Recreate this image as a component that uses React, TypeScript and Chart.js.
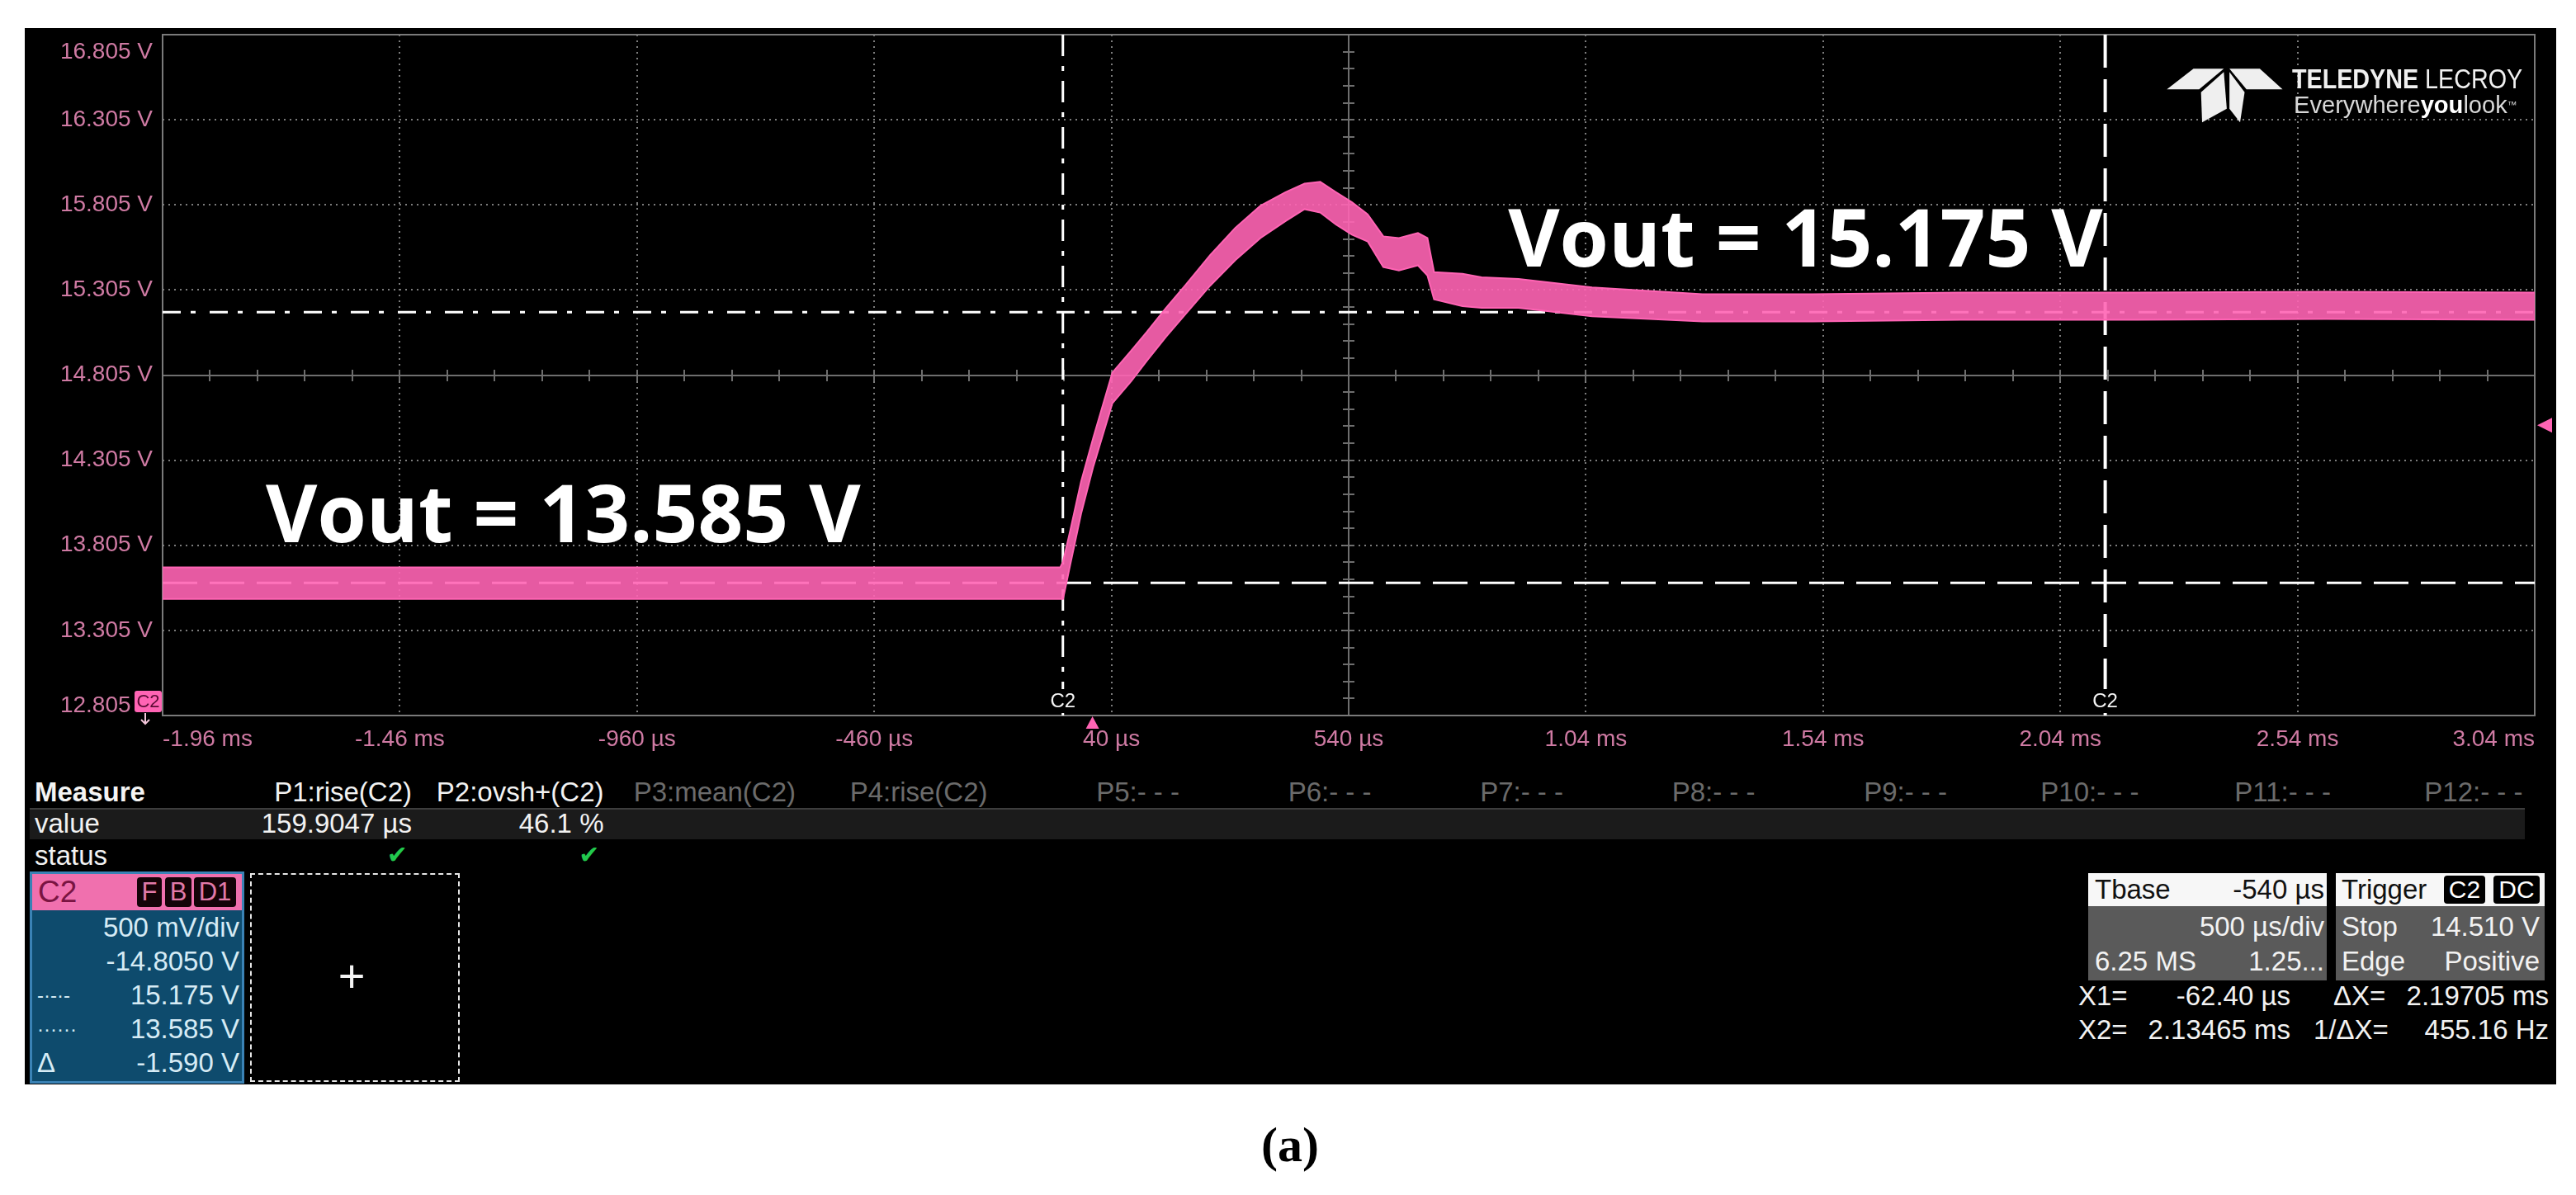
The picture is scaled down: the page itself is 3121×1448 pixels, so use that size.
import React, { useEffect, useRef } from 'react';
import { Chart, registerables } from 'chart.js';

Chart.register(...registerables);

// ---------------- data read from the oscilloscope capture ----------------
const timeMs = [-1.96, -1.2, -0.5, -0.068, -0.062, -0.047, -0.024, 0.002, 0.042, 0.082, 0.115, 0.155, 0.195, 0.248, 0.301, 0.354, 0.407, 0.447, 0.48, 0.513, 0.547, 0.58, 0.613, 0.646, 0.686, 0.706, 0.72, 0.78, 0.82, 0.898, 1.053, 1.286, 1.518, 1.83, 2.2, 2.6, 3.04];
const upperV = [13.675, 13.675, 13.675, 13.675, 13.71, 13.89, 14.18, 14.44, 14.82, 14.95, 15.06, 15.2, 15.33, 15.51, 15.67, 15.8, 15.88, 15.93, 15.94, 15.88, 15.82, 15.75, 15.62, 15.61, 15.64, 15.61, 15.41, 15.4, 15.38, 15.37, 15.32, 15.28, 15.28, 15.29, 15.29, 15.295, 15.29];
const lowerV = [13.49, 13.49, 13.49, 13.49, 13.49, 13.69, 13.99, 14.27, 14.64, 14.77, 14.89, 15.03, 15.16, 15.33, 15.48, 15.61, 15.71, 15.78, 15.76, 15.69, 15.63, 15.59, 15.44, 15.42, 15.45, 15.39, 15.25, 15.21, 15.2, 15.2, 15.15, 15.12, 15.12, 15.13, 15.13, 15.135, 15.13];

const xTickValues = [-1.96, -1.46, -0.96, -0.46, 0.04, 0.54, 1.04, 1.54, 2.04, 2.54, 3.04];
const xTickLabels = ['-1.96 ms', '-1.46 ms', '-960 µs', '-460 µs', '40 µs', '540 µs', '1.04 ms', '1.54 ms', '2.04 ms', '2.54 ms', '3.04 ms'];
const yTickValues = [12.805, 13.305, 13.805, 14.305, 14.805, 15.305, 15.805, 16.305, 16.805];
const yTickLabels = ['12.805 V', '13.305 V', '13.805 V', '14.305 V', '14.805 V', '15.305 V', '15.805 V', '16.305 V', '16.805 V'];

const refLevelDashDot = 15.175;
const refLevelDashed = 13.585;
const cursorTimes = [-0.0624, 2.13465];
const triggerTime = 0;
const triggerLevel = 14.51;

const annotations = [
  { text: 'Vout = 13.585 V', t: -1.7425, v: 13.823 },
  { text: 'Vout = 15.175 V', t: 0.876, v: 15.442 },
];

const measureHeaders = ['P1:rise(C2)', 'P2:ovsh+(C2)', 'P3:mean(C2)', 'P4:rise(C2)', 'P5:- - -', 'P6:- - -', 'P7:- - -', 'P8:- - -', 'P9:- - -', 'P10:- - -', 'P11:- - -', 'P12:- - -'];
const measureValues = ['159.9047 µs', '46.1 %'];
const channelRows = ['500 mV/div', '-14.8050 V', '15.175 V', '13.585 V', '-1.590 V'];
const channelMarks = ['', '', '-·-·-', '······', 'Δ'];
const tbaseRows = [['', '500 µs/div'], ['6.25 MS', '1.25...']];
const triggerRows = [['Stop', '14.510 V'], ['Edge', 'Positive']];
const cursorReadouts = [
  ['X1=', '-62.40 µs', 'ΔX=', '2.19705 ms'],
  ['X2=', '2.13465 ms', '1/ΔX=', '455.16 Hz'],
];

// ---------------- styles ----------------
const W = 3121;
const H = 1448;
const CANVAS_H = 920;
const SANS = "'Liberation Sans', Arial, Helvetica, sans-serif";
const TRACE = '#ff64b4';
const TICK = '#cf7aa3';
const X_MIN = xTickValues[0];
const X_MAX = xTickValues[xTickValues.length - 1];
const Y_MIN = yTickValues[0];
const Y_MAX = yTickValues[yTickValues.length - 1];

const gridPlugin = {
  id: 'scopeGrid',
  beforeDatasetsDraw(chart: any) {
    const { ctx, chartArea: a, scales } = chart;
    const xs = scales.x;
    const ys = scales.y;
    const cxIdx = 5;
    const cyIdx = 4;
    ctx.save();
    ctx.strokeStyle = '#7c7c7c';
    ctx.lineWidth = 2;
    ctx.setLineDash([2, 5]);
    xTickValues.forEach((v, i) => {
      if (i === 0 || i === xTickValues.length - 1 || i === cxIdx) return;
      const px = Math.round(xs.getPixelForValue(v));
      ctx.beginPath();
      ctx.moveTo(px, a.top);
      ctx.lineTo(px, a.bottom);
      ctx.stroke();
    });
    yTickValues.forEach((v, i) => {
      if (i === 0 || i === yTickValues.length - 1 || i === cyIdx) return;
      const py = Math.round(ys.getPixelForValue(v));
      ctx.beginPath();
      ctx.moveTo(a.left, py);
      ctx.lineTo(a.right, py);
      ctx.stroke();
    });
    ctx.setLineDash([]);
    ctx.strokeStyle = '#6e6e6e';
    const cx = Math.round(xs.getPixelForValue(xTickValues[cxIdx]));
    const cy = Math.round(ys.getPixelForValue(yTickValues[cyIdx]));
    ctx.beginPath();
    ctx.moveTo(cx, a.top);
    ctx.lineTo(cx, a.bottom);
    ctx.moveTo(a.left, cy);
    ctx.lineTo(a.right, cy);
    const nx = (xTickValues.length - 1) * 5;
    for (let i = 1; i < nx; i++) {
      const px = Math.round(a.left + (a.width * i) / nx);
      ctx.moveTo(px, cy - 7);
      ctx.lineTo(px, cy + 7);
    }
    const ny = (yTickValues.length - 1) * 5;
    for (let j = 1; j < ny; j++) {
      const py = Math.round(a.top + (a.height * j) / ny);
      ctx.moveTo(cx - 7, py);
      ctx.lineTo(cx + 7, py);
    }
    ctx.stroke();
    ctx.strokeStyle = '#7a7a7a';
    ctx.strokeRect(a.left, a.top, a.width, a.height);

    // y-axis labels (kept inside the plot's height like the scope does)
    ctx.fillStyle = TICK;
    ctx.font = `28px ${SANS}`;
    ctx.textAlign = 'right';
    ctx.textBaseline = 'middle';
    yTickValues.forEach((v, i) => {
      let py = ys.getPixelForValue(v);
      py = Math.max(py, a.top + 21);
      py = Math.min(py, a.bottom - 12);
      ctx.fillText(yTickLabels[i], a.left - 12, py);
    });
    ctx.restore();
  },
};

const overlayPlugin = {
  id: 'scopeOverlay',
  afterDatasetsDraw(chart: any) {
    const { ctx, chartArea: a, scales } = chart;
    const xs = scales.x;
    const ys = scales.y;
    ctx.save();
    // big annotations
    ctx.fillStyle = '#ffffff';
    ctx.font = "700 96px 'Open Sans', sans-serif";
    ctx.textAlign = 'left';
    ctx.textBaseline = 'alphabetic';
    annotations.forEach((an) => {
      ctx.fillText(an.text, xs.getPixelForValue(an.t), ys.getPixelForValue(an.v));
    });
    // cursor labels
    ctx.font = `24px ${SANS}`;
    ctx.textAlign = 'center';
    ctx.textBaseline = 'middle';
    cursorTimes.forEach((t) => {
      const px = xs.getPixelForValue(t);
      ctx.fillStyle = '#000';
      ctx.fillRect(px - 22, a.bottom - 32, 44, 29);
      ctx.fillStyle = '#f4f4f4';
      ctx.fillText('C2', px, a.bottom - 17);
    });
    // trigger time marker (bottom)
    ctx.fillStyle = TRACE;
    const tx = xs.getPixelForValue(triggerTime);
    ctx.beginPath();
    ctx.moveTo(tx, a.bottom + 1);
    ctx.lineTo(tx - 8, a.bottom + 16);
    ctx.lineTo(tx + 8, a.bottom + 16);
    ctx.closePath();
    ctx.fill();
    // trigger level marker (right)
    const ty = ys.getPixelForValue(triggerLevel);
    ctx.beginPath();
    ctx.moveTo(a.right + 3, ty);
    ctx.lineTo(a.right + 21, ty - 9);
    ctx.lineTo(a.right + 21, ty + 9);
    ctx.closePath();
    ctx.fill();
    // channel offset marker (left)
    ctx.fillStyle = TRACE;
    ctx.beginPath();
    ctx.roundRect(a.left - 34, a.bottom - 30, 33, 26, 3);
    ctx.fill();
    ctx.fillStyle = '#5c0b34';
    ctx.font = `22px ${SANS}`;
    ctx.fillText('C2', a.left - 17.5, a.bottom - 16);
    ctx.strokeStyle = '#f3c6da';
    ctx.lineWidth = 2;
    ctx.beginPath();
    ctx.moveTo(a.left - 21, a.bottom - 3);
    ctx.lineTo(a.left - 21, a.bottom + 10);
    ctx.moveTo(a.left - 26, a.bottom + 5);
    ctx.lineTo(a.left - 21, a.bottom + 10);
    ctx.lineTo(a.left - 16, a.bottom + 5);
    ctx.stroke();
    ctx.restore();
  },
};

function buildConfig(): any {
  return {
    type: 'line',
    data: {
      datasets: [
        {
          data: timeMs.map((t, i) => ({ x: t, y: lowerV[i] })),
          borderColor: TRACE,
          borderWidth: 2,
          pointRadius: 0,
          fill: false,
          order: 0,
        },
        {
          data: timeMs.map((t, i) => ({ x: t, y: upperV[i] })),
          borderColor: TRACE,
          borderWidth: 2,
          pointRadius: 0,
          fill: '-1',
          backgroundColor: 'rgba(255,100,180,0.9)',
          order: 0,
        },
        {
          data: [{ x: X_MIN, y: refLevelDashDot }, { x: X_MAX, y: refLevelDashDot }],
          borderColor: '#ffffff',
          borderWidth: 3,
          borderDash: [22, 12, 6, 17],
          pointRadius: 0,
          order: 5,
        },
        {
          data: [{ x: X_MIN, y: refLevelDashed }, { x: X_MAX, y: refLevelDashed }],
          borderColor: '#ffffff',
          borderWidth: 3,
          borderDash: [42, 15],
          pointRadius: 0,
          order: 5,
        },
        {
          data: [{ x: cursorTimes[0], y: Y_MAX }, { x: cursorTimes[0], y: Y_MIN }],
          borderColor: '#ffffff',
          borderWidth: 3,
          borderDash: [26, 12, 6, 12],
          pointRadius: 0,
          order: 6,
        },
        {
          data: [{ x: cursorTimes[1], y: Y_MAX }, { x: cursorTimes[1], y: Y_MIN }],
          borderColor: '#ffffff',
          borderWidth: 4,
          borderDash: [40, 14],
          pointRadius: 0,
          order: 6,
        },
      ],
    },
    options: {
      animation: false,
      responsive: false,
      maintainAspectRatio: false,
      layout: { padding: { left: 0, top: 42, right: 50, bottom: 0 } },
      plugins: { legend: { display: false }, tooltip: { enabled: false } },
      scales: {
        x: {
          type: 'linear',
          min: X_MIN,
          max: X_MAX,
          grid: { display: false },
          border: { display: false },
          afterBuildTicks: (s: any) => {
            s.ticks = xTickValues.map((v) => ({ value: v }));
          },
          afterFit: (s: any) => {
            s.height = CANVAS_H - 867;
          },
          ticks: {
            autoSkip: false,
            maxRotation: 0,
            minRotation: 0,
            align: 'inner',
            padding: 4,
            color: TICK,
            font: { family: SANS, size: 28 },
            callback: (_v: any, i: number) => xTickLabels[i],
          },
        },
        y: {
          type: 'linear',
          min: Y_MIN,
          max: Y_MAX,
          grid: { display: false },
          border: { display: false },
          afterBuildTicks: (s: any) => {
            s.ticks = yTickValues.map((v) => ({ value: v }));
          },
          afterFit: (s: any) => {
            s.width = 197;
          },
          ticks: {
            display: false,
          },
        },
      },
    },
    plugins: [gridPlugin, overlayPlugin],
  };
}

type TP = {
  x: number;
  y: number;
  s?: number;
  c?: string;
  w?: number;
  a?: 'left' | 'right' | 'center';
  f?: string;
  children: React.ReactNode;
};

function Txt({ x, y, s = 33, c = '#f2f2f2', w = 400, a = 'left', f = SANS, children }: TP) {
  const h = Math.round(s * 1.4);
  const style: React.CSSProperties = {
    position: 'absolute',
    top: y - h / 2,
    height: h,
    lineHeight: `${h}px`,
    fontSize: s,
    color: c,
    fontWeight: w,
    fontFamily: f,
    whiteSpace: 'pre',
  };
  if (a === 'left') style.left = x;
  else if (a === 'right') style.right = W - x;
  else {
    style.left = x;
    style.transform = 'translateX(-50%)';
  }
  return <div style={style}>{children}</div>;
}

function Box({ l, t, w, h, bg, extra }: { l: number; t: number; w: number; h: number; bg: string; extra?: React.CSSProperties }) {
  return <div style={{ position: 'absolute', left: l, top: t, width: w, height: h, background: bg, boxSizing: 'border-box', ...extra }} />;
}

export default function App() {
  const ref = useRef<HTMLCanvasElement>(null);
  useEffect(() => {
    document.body.style.margin = '0';
    const chart = new Chart(ref.current as HTMLCanvasElement, buildConfig());
    return () => chart.destroy();
  }, []);

  const colRight = (k: number) => 499 + 232.5 * k;

  return (
    <div style={{ position: 'absolute', left: 0, top: 0, width: W, height: H, background: '#fff', overflow: 'hidden' }}>
      <Box l={30} t={34} w={3067} h={1280} bg="#000" />
      <canvas ref={ref} width={W} height={CANVAS_H} style={{ position: 'absolute', left: 0, top: 0, width: W, height: CANVAS_H }} />

      {/* logo */}
      <svg style={{ position: 'absolute', left: 2620, top: 80 }} width={150} height={72} viewBox="2620 80 150 72">
        <polygon points="2625.3,108.3 2657.5,83.3 2694.3,83.3 2664.4,108.3" fill="#efefef" />
        <polygon points="2701.1,83.3 2737.9,83.3 2765.5,108.3 2721.8,108.3" fill="#efefef" />
        <polygon points="2666.7,111.7 2694.3,87.3 2697.9,131.7 2668.0,148.3" fill="#efefef" />
        <polygon points="2701.1,87.3 2719.5,111.7 2714.0,148.3 2701.1,131.7" fill="#efefef" />
      </svg>
      <div style={{ position: 'absolute', left: 2777, top: 79, fontFamily: SANS, fontSize: 33, lineHeight: '33px', color: '#f0f0f0', whiteSpace: 'pre', transform: 'scaleX(0.87)', transformOrigin: '0 0' }}>
        <b>TELEDYNE</b> LECROY
      </div>
      <div style={{ position: 'absolute', left: 2779, top: 112, fontFamily: SANS, fontSize: 30, lineHeight: '30px', color: '#d8d8d8', whiteSpace: 'pre', transform: 'scaleX(0.97)', transformOrigin: '0 0' }}>
        Everywhere<b style={{ color: '#fff' }}>you</b>look<span style={{ fontSize: 12, verticalAlign: 'top' }}>™</span>
      </div>

      {/* measure table */}
      <Box l={36} t={979} w={3023} h={38} bg="#1b1b1b" extra={{ borderTop: '2px solid #3d3d3d' }} />
      <Txt x={42} y={960} w={700} c="#f4f4f4">Measure</Txt>
      <Txt x={42} y={998}>value</Txt>
      <Txt x={42} y={1037}>status</Txt>
      {measureHeaders.map((h, k) => (
        <Txt key={h} x={colRight(k)} y={960} a="right" c={k < measureValues.length ? '#f2f2f2' : '#6b6b6b'}>
          {h}
        </Txt>
      ))}
      {measureValues.map((v, k) => (
        <Txt key={v} x={colRight(k)} y={998} a="right">
          {v}
        </Txt>
      ))}
      {measureValues.map((v, k) => (
        <Txt key={'chk' + v} x={colRight(k) - 5} y={1036} a="right" c="#22c94e" s={30} f="'DejaVu Sans', sans-serif">
          ✔
        </Txt>
      ))}

      {/* channel descriptor box */}
      <Box l={36} t={1056} w={260} h={257} bg="#0e4b6d" extra={{ border: '3px solid #3a82b5' }} />
      <Box l={39} t={1059} w={254} h={44} bg="#f070ae" />
      <Txt x={46} y={1081} s={37} c="#7a1442">C2</Txt>
      {[
        ['F', 166, 30],
        ['B', 200, 32],
        ['D1', 235, 51],
      ].map(([t, l, w]) => (
        <div
          key={t as string}
          style={{ position: 'absolute', left: l as number, top: 1063, width: w as number, height: 36, background: '#140308', borderRadius: 4, color: '#e17aa9', fontFamily: SANS, fontSize: 31, lineHeight: '36px', textAlign: 'center' }}
        >
          {t}
        </div>
      ))}
      {channelRows.map((r, i) => (
        <Txt key={r} x={290} y={1124 + i * 41} a="right" c="#d6ebf5">
          {r}
        </Txt>
      ))}
      {channelMarks.map((m, i) =>
        m ? (
          <Txt key={'m' + i} x={45} y={1124 + i * 41} c="#d6ebf5" s={i === 4 ? 33 : 24}>
            {m}
          </Txt>
        ) : null
      )}

      {/* empty dashed slot */}
      <Box l={303} t={1058} w={254} h={253} bg="#000" extra={{ border: '2px dashed #e6e6e6' }} />
      <Txt x={426} y={1183} a="center" s={56} c="#f4f4f4" w={300}>
        +
      </Txt>

      {/* timebase box */}
      <Box l={2530} t={1058} w={289} h={40} bg="#f7f7f7" />
      <Box l={2530} t={1098} w={289} h={90} bg="#5a5a5a" />
      <Txt x={2538} y={1078} c="#111">Tbase</Txt>
      <Txt x={2816} y={1078} a="right" c="#111">-540 µs</Txt>
      {tbaseRows.map((r, i) => (
        <React.Fragment key={'tb' + i}>
          {r[0] ? <Txt x={2538} y={1123 + i * 42}>{r[0]}</Txt> : null}
          <Txt x={2816} y={1123 + i * 42} a="right">
            {r[1]}
          </Txt>
        </React.Fragment>
      ))}

      {/* trigger box */}
      <Box l={2830} t={1058} w={253} h={40} bg="#f7f7f7" />
      <Box l={2830} t={1098} w={253} h={90} bg="#5a5a5a" />
      <Txt x={2837} y={1078} c="#111">Trigger</Txt>
      <div style={{ position: 'absolute', left: 2961, top: 1061, width: 50, height: 34, background: '#000', borderRadius: 4, color: '#fff', fontFamily: SANS, fontSize: 30, lineHeight: '34px', textAlign: 'center' }}>C2</div>
      <div style={{ position: 'absolute', left: 3021, top: 1061, width: 56, height: 34, background: '#000', borderRadius: 4, color: '#fff', fontFamily: SANS, fontSize: 30, lineHeight: '34px', textAlign: 'center' }}>DC</div>
      {triggerRows.map((r, i) => (
        <React.Fragment key={'tr' + i}>
          <Txt x={2837} y={1123 + i * 42}>{r[0]}</Txt>
          <Txt x={3077} y={1123 + i * 42} a="right">
            {r[1]}
          </Txt>
        </React.Fragment>
      ))}

      {/* cursor readouts */}
      {cursorReadouts.map((r, i) => (
        <React.Fragment key={'cr' + i}>
          <Txt x={2518} y={1207 + i * 41}>{r[0]}</Txt>
          <Txt x={2775} y={1207 + i * 41} a="right">
            {r[1]}
          </Txt>
          <Txt x={i === 0 ? 2827 : 2803} y={1207 + i * 41}>{r[2]}</Txt>
          <Txt x={3088} y={1207 + i * 41} a="right">
            {r[3]}
          </Txt>
        </React.Fragment>
      ))}

      {/* caption */}
      <Txt x={1563} y={1387} a="center" s={60} w={700} c="#000" f="'Liberation Serif', 'Times New Roman', serif">
        (a)
      </Txt>
    </div>
  );
}
